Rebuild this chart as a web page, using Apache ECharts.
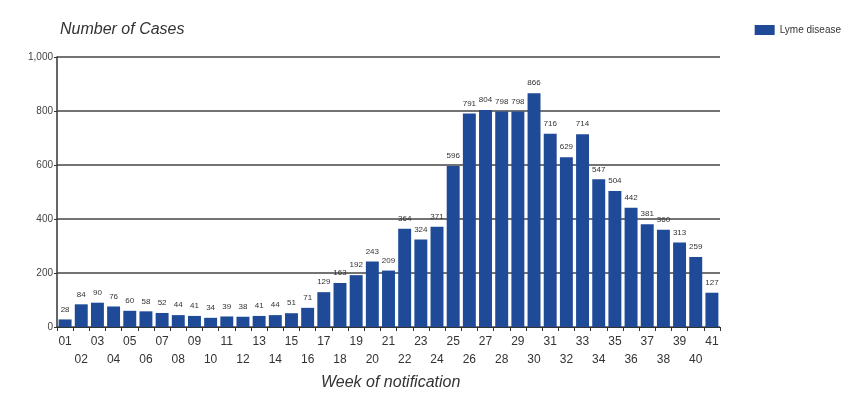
<!DOCTYPE html>
<html><head><meta charset="utf-8">
<script src="https://cdn.jsdelivr.net/npm/echarts@6/dist/echarts.min.js"></script>
<style>html,body{margin:0;padding:0;background:#fff}#c{width:850px;height:393px}</style>
</head><body><div id="c"></div>
<script>
const weeks = ['01','02','03','04','05','06','07','08','09','10','11','12','13','14','15','16','17','18','19','20','21','22','23','24','25','26','27','28','29','30','31','32','33','34','35','36','37','38','39','40','41'];
const cases = [28,84,90,76,60,58,52,44,41,34,39,38,41,44,51,71,129,163,192,243,209,364,324,371,596,791,804,798,798,866,716,629,714,547,504,442,381,360,313,259,127];
const yTicks = [0,200,400,600,800,1000];
const seriesName = 'Lyme disease';
const yTitle = 'Number of Cases';
const xTitle = 'Week of notification';

const chart = echarts.init(document.getElementById('c'));
const F = 'Liberation Sans, Arial, sans-serif';
chart.setOption({
  animation: false,
  textStyle: {fontFamily: F},
  grid: {left: 57, right: 130, top: 57, bottom: 66, containLabel: false},
  title: [
    {text: yTitle, left: 55, top: 17, textStyle: {fontFamily: F, fontStyle: 'italic', fontWeight: 'normal', fontSize: 16, color: '#333'}},
    {text: xTitle, left: 316, top: 370, textStyle: {fontFamily: F, fontStyle: 'italic', fontWeight: 'normal', fontSize: 16, color: '#333'}}
  ],
  legend: {
    right: 4, top: 20, itemWidth: 20, itemHeight: 10, itemGap: 5,
    textStyle: {fontSize: 10, color: '#333', fontFamily: F},
    data: [{name: seriesName, icon: 'rect'}]
  },
  xAxis: {
    type: 'category', data: weeks,
    axisLine: {show: true, lineStyle: {color: '#333', width: 1}},
    axisTick: {show: true, alignWithLabel: false, length: 4, lineStyle: {color: '#333'}},
    axisLabel: {interval: 0, color: '#333', fontSize: 12, lineHeight: 18, margin: 6,
      formatter: (v, i) => (i % 2 ? '\n' + v : v)}
  },
  yAxis: {
    type: 'value', min: 0, max: 1000, interval: 200,
    axisLine: {show: true, lineStyle: {color: '#333', width: 1.5}},
    axisTick: {show: true, length: 3, lineStyle: {color: '#333'}},
    axisLabel: {color: '#444', fontSize: 10, margin: 4,
      formatter: v => yTicks.includes(v) ? v.toLocaleString('en-US') : ''},
    splitLine: {show: true, lineStyle: {color: '#444', width: 1.5}}
  },
  series: [{
    name: seriesName, type: 'bar', data: cases, barCategoryGap: '20%',
    itemStyle: {color: '#1e4a98'},
    label: {show: true, position: 'top', distance: 6, fontSize: 8, color: '#333'}
  }]
});
</script></body></html>
